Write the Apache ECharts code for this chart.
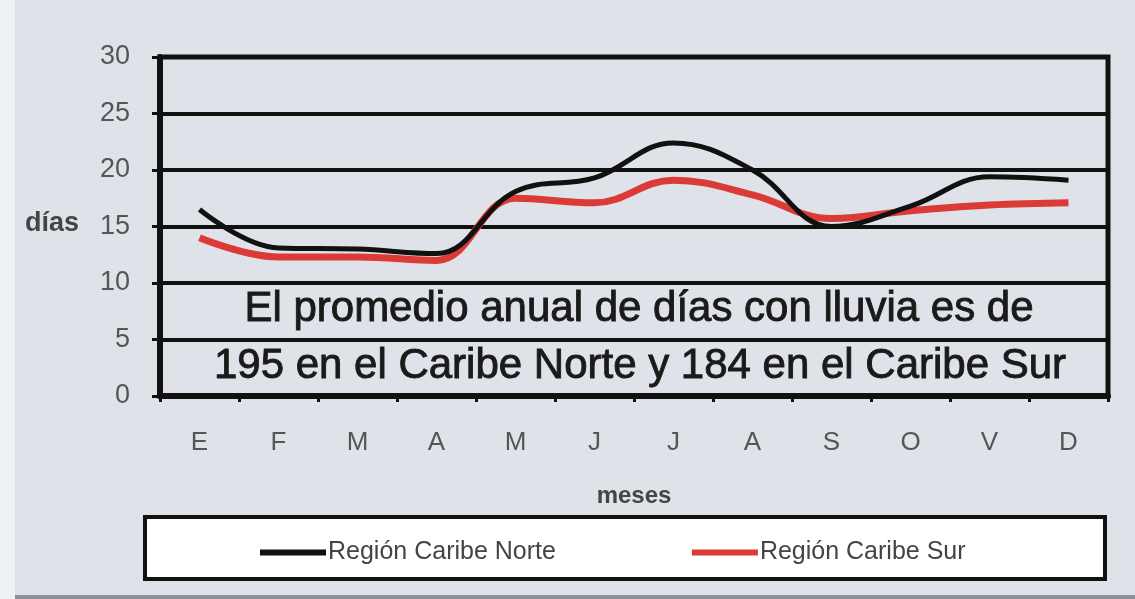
<!DOCTYPE html>
<html>
<head>
<meta charset="utf-8">
<script src="https://cdn.jsdelivr.net/npm/echarts@6/dist/echarts.min.js"></script>
<style>
  html, body { margin: 0; padding: 0; background: #dfe3e9; }
  #chart { width: 1135px; height: 599px; }
</style>
</head>
<body>
<div id="chart"></div>
<script>
// Meses del año (iniciales)
const meses = ['E', 'F', 'M', 'A', 'M', 'J', 'J', 'A', 'S', 'O', 'V', 'D'];

// Promedio mensual de días con lluvia
const caribeNorte = [16.5, 13.1, 13.0, 12.6, 18.1, 19.3, 22.4, 20.0, 15.0, 16.8, 19.4, 19.1];
const caribeSur   = [14.0, 12.3, 12.3, 12.0, 17.5, 17.1, 19.1, 17.8, 15.7, 16.4, 16.9, 17.1];

const nombres = ['Región Caribe Norte', 'Región Caribe Sur'];
const nota = [
  'El promedio anual de días con lluvia es de',
  '195 en el Caribe Norte y 184 en el Caribe Sur'
];

const chart = echarts.init(document.getElementById('chart'), null, { renderer: 'canvas' });

const fuente = 'Liberation Sans, Arial, sans-serif';

chart.setOption({
  backgroundColor: '#dfe3e9',
  animation: false,
  grid: {
    left: 160, right: 27, top: 57, bottom: 203,
    show: true,
    borderColor: '#111',
    borderWidth: 5,
    backgroundColor: 'transparent'
  },
  xAxis: {
    type: 'category',
    data: meses,
    boundaryGap: true,
    axisLine: { show: true, lineStyle: { color: '#111', width: 6 } },
    axisTick: { show: true, length: 6, lineStyle: { color: '#111', width: 3 } },
    axisLabel: { color: '#555', fontSize: 26, fontFamily: fuente, margin: 34 },
    splitLine: { show: false },
    name: 'meses',
    nameLocation: 'middle',
    nameGap: 88,
    nameTextStyle: { color: '#444', fontSize: 24, fontWeight: 'bold', fontFamily: fuente }
  },
  yAxis: {
    type: 'value',
    min: 0, max: 30, interval: 5,
    axisLine: { show: true, lineStyle: { color: '#111', width: 6 } },
    axisTick: { show: true, length: 8, lineStyle: { color: '#111', width: 3 } },
    axisLabel: { color: '#555', fontSize: 27, fontFamily: fuente, margin: 30 },
    splitLine: { show: true, lineStyle: { color: '#111', width: 4 } }
  },
  legend: {
    data: nombres,
    left: 255,
    top: 535,
    icon: 'rect',
    itemWidth: 66,
    itemHeight: 6,
    itemGap: 136,
    z: 10,
    textStyle: { color: '#444', fontSize: 25, fontFamily: fuente, padding: [0, 0, 0, -3] }
  },
  graphic: [
    // franja clara en el borde izquierdo
    { type: 'rect', z: 0, shape: { x: 0, y: 0, width: 15, height: 599 }, style: { fill: '#eef1f4' } },
    // línea gris inferior
    { type: 'rect', z: 0, shape: { x: 15, y: 595, width: 1120, height: 4 }, style: { fill: '#8c9096' } },
    // recuadro de la leyenda
    { type: 'rect', z: 1, shape: { x: 145, y: 517, width: 960, height: 62 },
      style: { fill: '#ffffff', stroke: '#111', lineWidth: 4 } },
    // nombre del eje vertical
    { type: 'text', z: 5, x: 25, y: 224,
      style: { text: 'días', fill: '#444', font: 'bold 27px ' + fuente, verticalAlign: 'middle', align: 'left' } },
    // nota sobre el promedio anual
    { type: 'text', z: 100, x: 639, y: 309,
      style: { text: nota[0], fill: '#1a1a1a', stroke: '#1a1a1a', lineWidth: 0.9,
               font: '42px ' + fuente, align: 'center', verticalAlign: 'middle' } },
    { type: 'text', z: 100, x: 640, y: 366,
      style: { text: nota[1], fill: '#1a1a1a', stroke: '#1a1a1a', lineWidth: 0.9,
               font: '42px ' + fuente, align: 'center', verticalAlign: 'middle' } }
  ],
  series: [
    {
      name: nombres[0],
      type: 'line',
      data: caribeNorte,
      smooth: 0.4,
      showSymbol: false,
      z: 3,
      lineStyle: { color: '#111', width: 5 },
      itemStyle: { color: '#111' }
    },
    {
      name: nombres[1],
      type: 'line',
      data: caribeSur,
      smooth: 0.4,
      showSymbol: false,
      z: 2,
      lineStyle: { color: '#dc3a36', width: 7 },
      itemStyle: { color: '#dc3a36' }
    }
  ]
});
</script>
</body>
</html>
